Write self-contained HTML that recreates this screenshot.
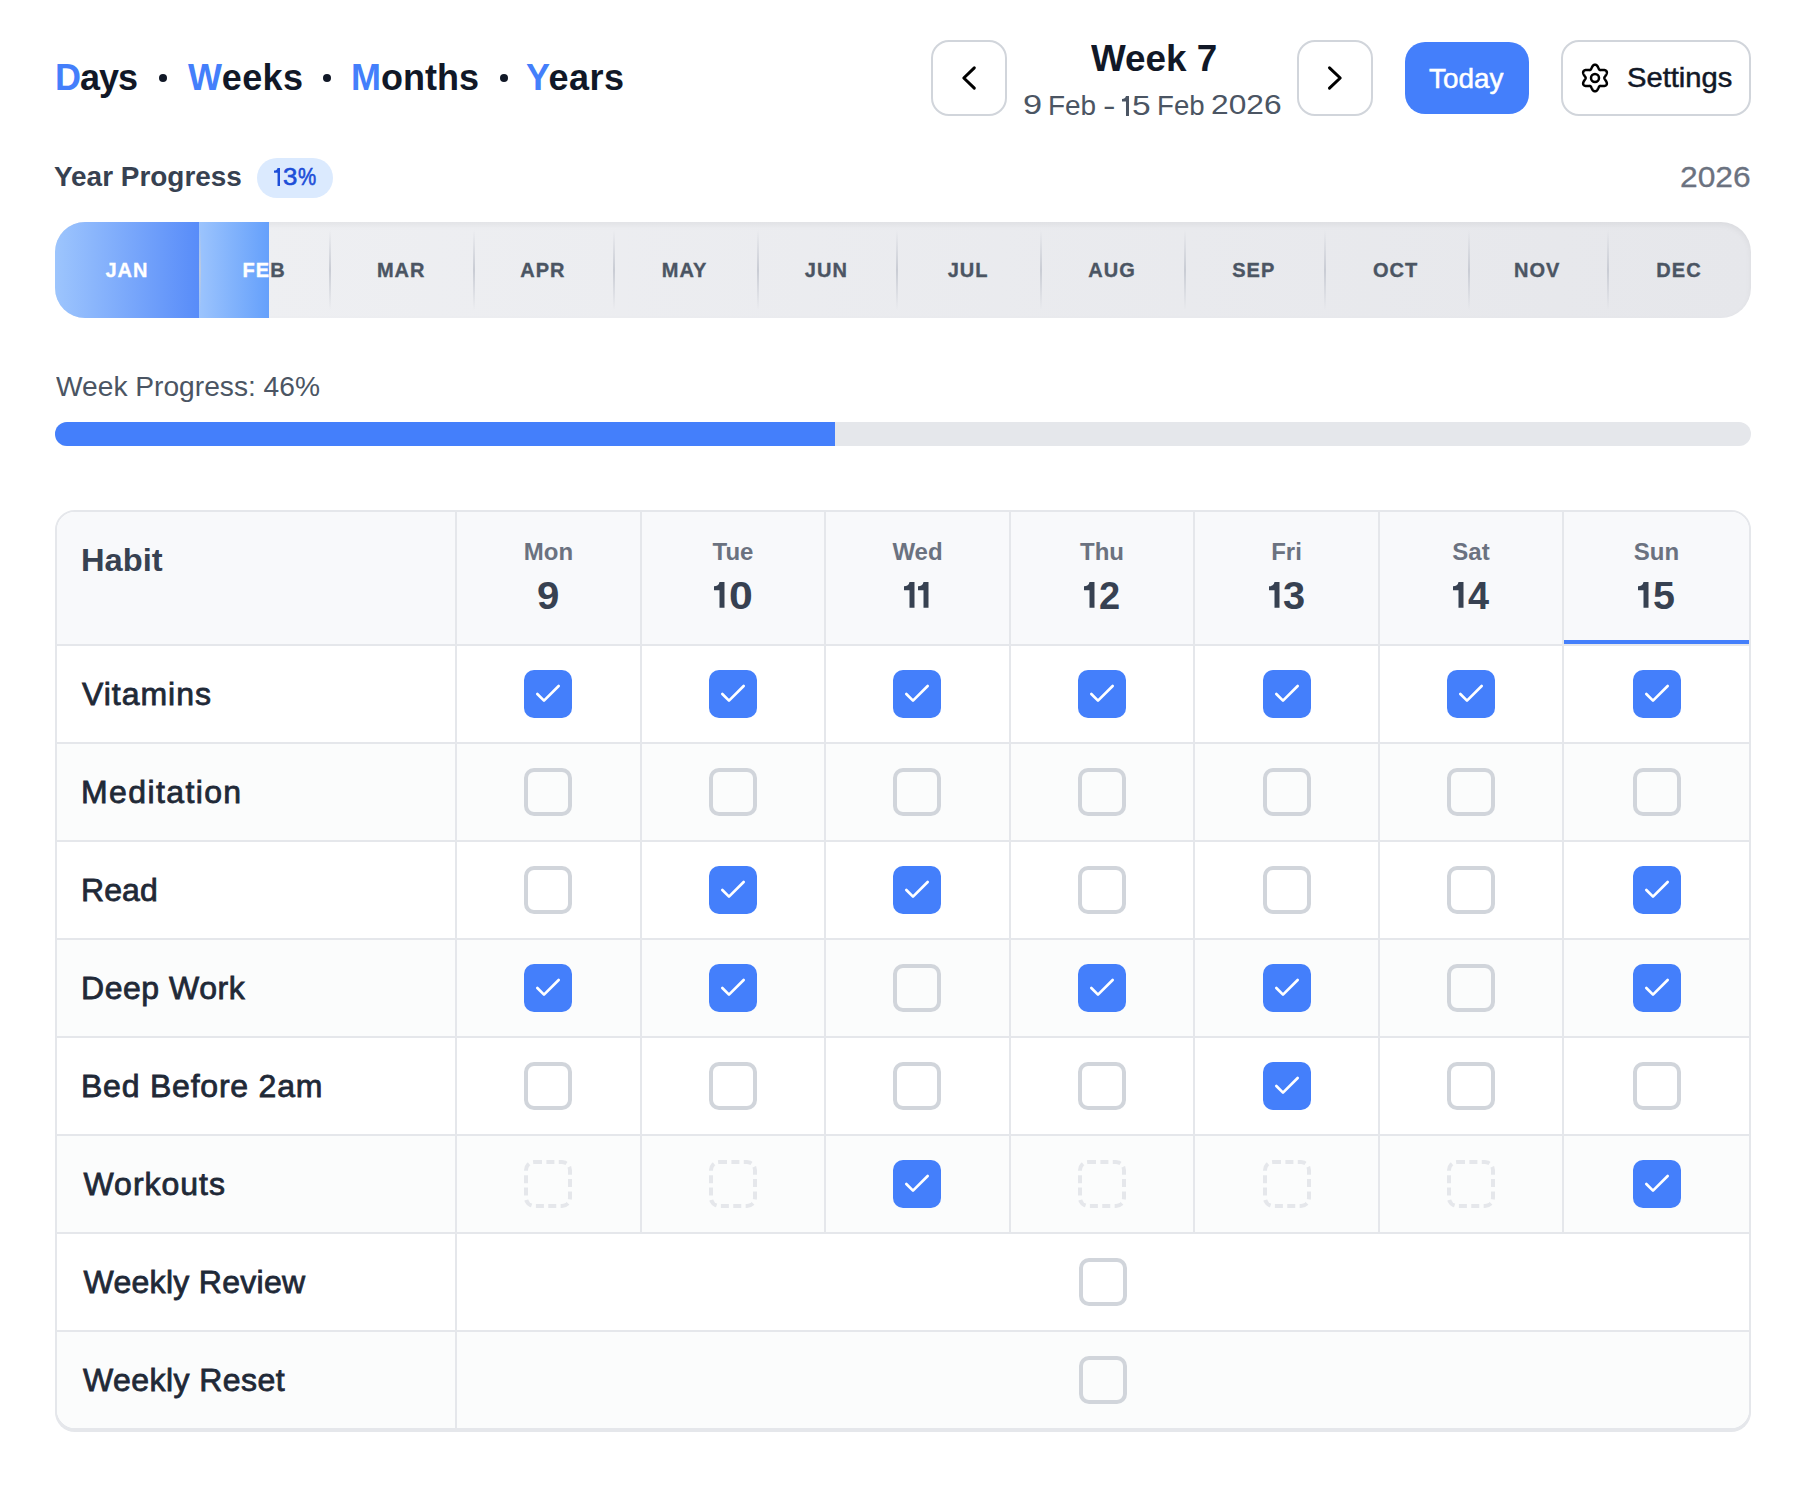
<!DOCTYPE html>
<html><head><meta charset="utf-8">
<style>
*{box-sizing:border-box;margin:0;padding:0}
html,body{width:1812px;height:1488px;background:#fff;overflow:hidden}
body{font-family:"Liberation Sans",sans-serif;position:relative;color:#111827}
.abs{position:absolute}
.t{position:absolute;white-space:nowrap}
.nav{position:absolute;top:52px;font-size:36px;font-weight:700;line-height:52px;color:#111827;white-space:nowrap}
.nav b{color:#447ffb;font-weight:700}
.dot{position:absolute;top:74px;width:8px;height:8px;border-radius:50%;background:#111827}
.btn{position:absolute;border:2px solid #d1d5db;border-radius:18px;background:#fff}
.btn svg{position:absolute}
.today{position:absolute;left:1405px;top:42px;width:124px;height:72px;border-radius:20px;background:#447ffb;color:#fff;font-size:28px;line-height:72px;text-align:center;-webkit-text-stroke:0.5px #fff;letter-spacing:0px}
#bar{position:absolute;left:55px;top:222px;width:1696px;height:96px;border-radius:30px;overflow:hidden;background:linear-gradient(to right,#eff0f3,#e6e7eb)}
#bar .shade{position:absolute;left:0;top:0;width:1696px;height:96px;border-radius:30px;box-shadow:inset 0 3px 6px rgba(0,0,0,0.05)}
.mlab{position:absolute;top:0;height:96px;line-height:96px;text-align:center;font-size:20px;font-weight:700;letter-spacing:1px;color:#4b5563;-webkit-text-stroke:0.35px #4b5563}
.sep{position:absolute;top:8px;width:2px;height:80px;background:linear-gradient(to bottom,rgba(200,203,211,0),#c9ccd4 50%,rgba(200,203,211,0))}
.fill{position:absolute;top:0;height:96px;overflow:hidden}
.fill .mlab{color:#fff;-webkit-text-stroke:0.35px #fff}
#tbl{position:absolute;left:55px;top:510px;width:1696px;height:920px;border:2px solid #e5e7eb;border-radius:20px;box-shadow:0 2px 0 #e5e7eb;overflow:hidden;background:#fff}
.hl{position:absolute;left:0;width:1692px;height:2px;background:#e5e7eb}
.vl{position:absolute;top:0;width:2px;background:#e5e7eb}
.rowbg{position:absolute;left:0;width:1692px;height:96px;background:#fbfcfc}
.cb{position:absolute;width:48px;height:48px;border-radius:10px}
.cb.on{background:#447ffb}
.cb.off{border:4px solid #d1d5db}
.cb.na{border:4px dashed #e5e7eb}
.cb svg{position:absolute;left:8px;top:8px}
.hname{position:absolute;left:25px;font-size:32px;color:#1f2937;line-height:96px;white-space:nowrap;-webkit-text-stroke:0.8px #1f2937}
.dname{position:absolute;top:24px;line-height:32px;width:184px;text-align:center;font-size:24px;font-weight:700;color:#6b7280;white-space:nowrap}
.dg{position:absolute;top:54px;line-height:60px;font-size:38px;font-weight:700;color:#374151;white-space:nowrap;transform-origin:0 0}
.one{position:absolute;fill:#374151}
</style></head>
<body>
<div class="nav" style="left:55px;letter-spacing:-1.0px"><b>D</b>ays</div>
<div class="dot" style="left:159px"></div>
<div class="nav" style="left:188px;letter-spacing:0.4px"><b>W</b>eeks</div>
<div class="dot" style="left:323px"></div>
<div class="nav" style="left:351px;letter-spacing:0px"><b>M</b>onths</div>
<div class="dot" style="left:500px"></div>
<div class="nav" style="left:526px;letter-spacing:0.5px"><b>Y</b>ears</div>
<div class="btn" style="left:931px;top:40px;width:76px;height:76px"><svg width="72" height="72" viewBox="0 0 72 72" style="left:0;top:0" fill="none" stroke="#000" stroke-width="3" stroke-linecap="round" stroke-linejoin="round"><path d="M41.3 25.8 L30.8 36.0 L41.3 46.2"/></svg></div>
<div class="t" style="left:1090.8px;top:34.4px;line-height:50px;transform:scaleX(1.0238);transform-origin:0 0;font-size:36px;font-weight:700;color:#111827">Week 7</div>
<div class="t" style="left:1022.55px;top:80.2px;line-height:50px;transform:scaleX(1.225);transform-origin:0 0;font-size:28px;color:#4b5563">9</div>
<div class="t" style="left:1048.1px;top:81.2px;line-height:50px;transform:scaleX(0.9978);transform-origin:0 0;font-size:28px;color:#4b5563">Feb</div>
<div class="t" style="left:1102.56px;top:81.0px;line-height:50px;transform:scaleX(1.3429);transform-origin:0 0;font-size:28px;color:#4b5563">-</div>
<div class="t" style="left:1131.6px;top:80.8px;line-height:50px;transform:scaleX(1.2);transform-origin:0 0;font-size:28px;color:#4b5563">5</div>
<div class="t" style="left:1156.93px;top:81.3px;line-height:50px;transform:scaleX(0.9867);transform-origin:0 0;font-size:28px;color:#4b5563">Feb</div>
<div class="t" style="left:1210.74px;top:80.3px;line-height:50px;transform:scaleX(1.1322);transform-origin:0 0;font-size:28px;color:#4b5563">2026</div>
<svg class="t" width="7.2" height="20.3" viewBox="0 0 7.2 20.3" style="left:1122.2px;top:95.8px;fill:#4b5563"><path d="M4 0H7.2V20.3H4V5.4H0V2.9C2 2.9 3.6 2 4 0Z"/></svg>
<div class="btn" style="left:1297px;top:40px;width:76px;height:76px"><svg width="72" height="72" viewBox="0 0 72 72" style="left:0;top:0" fill="none" stroke="#000" stroke-width="3" stroke-linecap="round" stroke-linejoin="round"><path d="M30.5 25.8 L41.2 36.0 L30.5 46.2"/></svg></div>
<div class="today"></div>
<div class="t" style="left:1429.3px;top:53.5px;line-height:50px;transform:scaleX(0.9947);transform-origin:0 0;font-size:28px;color:#fff;-webkit-text-stroke:0.5px #fff">Today</div>
<div class="btn" style="left:1561px;top:40px;width:190px;height:76px"><svg width="30" height="30" viewBox="0 0 30 30" style="left:17px;top:21px" fill="none" stroke="#000" stroke-width="2.5" stroke-linejoin="round"><path d="M24.35 15.00 L24.36 15.16 L24.39 15.33 L24.43 15.49 L24.50 15.66 L24.58 15.84 L24.68 16.02 L24.79 16.20 L24.91 16.39 L25.05 16.59 L25.19 16.80 L25.34 17.01 L25.50 17.23 L25.65 17.46 L25.81 17.70 L25.96 17.94 L26.11 18.19 L26.25 18.44 L26.38 18.70 L26.50 18.96 L26.61 19.22 L26.69 19.49 L26.76 19.75 L26.82 20.02 L26.85 20.27 L26.86 20.53 L26.84 20.78 L26.81 21.02 L26.75 21.25 L26.67 21.47 L26.56 21.67 L26.43 21.87 L26.28 22.05 L26.11 22.22 L25.92 22.37 L25.72 22.50 L25.49 22.62 L25.25 22.73 L25.00 22.81 L24.73 22.88 L24.46 22.94 L24.18 22.98 L23.89 23.01 L23.60 23.02 L23.31 23.03 L23.03 23.03 L22.74 23.01 L22.46 23.00 L22.18 22.98 L21.91 22.95 L21.65 22.93 L21.40 22.91 L21.16 22.89 L20.94 22.88 L20.72 22.87 L20.52 22.88 L20.33 22.89 L20.15 22.92 L19.98 22.97 L19.82 23.02 L19.68 23.10 L19.54 23.19 L19.41 23.29 L19.29 23.42 L19.17 23.56 L19.06 23.72 L18.96 23.89 L18.85 24.08 L18.75 24.28 L18.65 24.50 L18.54 24.73 L18.43 24.96 L18.32 25.21 L18.20 25.46 L18.07 25.71 L17.94 25.96 L17.80 26.22 L17.65 26.46 L17.49 26.71 L17.32 26.94 L17.14 27.16 L16.96 27.37 L16.77 27.56 L16.56 27.74 L16.36 27.90 L16.14 28.03 L15.92 28.14 L15.69 28.23 L15.46 28.30 L15.23 28.34 L15.00 28.35 L14.77 28.34 L14.54 28.30 L14.31 28.23 L14.08 28.14 L13.86 28.03 L13.64 27.90 L13.44 27.74 L13.23 27.56 L13.04 27.37 L12.86 27.16 L12.68 26.94 L12.51 26.71 L12.35 26.46 L12.20 26.22 L12.06 25.96 L11.93 25.71 L11.80 25.46 L11.68 25.21 L11.57 24.96 L11.46 24.73 L11.35 24.50 L11.25 24.28 L11.15 24.08 L11.04 23.89 L10.94 23.72 L10.83 23.56 L10.71 23.42 L10.59 23.29 L10.46 23.19 L10.33 23.10 L10.18 23.02 L10.02 22.97 L9.85 22.92 L9.67 22.89 L9.48 22.88 L9.28 22.87 L9.06 22.88 L8.84 22.89 L8.60 22.91 L8.35 22.93 L8.09 22.95 L7.82 22.98 L7.54 23.00 L7.26 23.01 L6.97 23.03 L6.69 23.03 L6.40 23.02 L6.11 23.01 L5.82 22.98 L5.54 22.94 L5.27 22.88 L5.00 22.81 L4.75 22.73 L4.51 22.62 L4.28 22.50 L4.08 22.37 L3.89 22.22 L3.72 22.05 L3.57 21.87 L3.44 21.67 L3.33 21.47 L3.25 21.25 L3.19 21.02 L3.16 20.78 L3.14 20.53 L3.15 20.27 L3.18 20.02 L3.24 19.75 L3.31 19.49 L3.39 19.22 L3.50 18.96 L3.62 18.70 L3.75 18.44 L3.89 18.19 L4.04 17.94 L4.19 17.70 L4.35 17.46 L4.50 17.23 L4.66 17.01 L4.81 16.80 L4.95 16.59 L5.09 16.39 L5.21 16.20 L5.32 16.02 L5.42 15.84 L5.50 15.66 L5.57 15.49 L5.61 15.33 L5.64 15.16 L5.65 15.00 L5.64 14.84 L5.61 14.67 L5.57 14.51 L5.50 14.34 L5.42 14.16 L5.32 13.98 L5.21 13.80 L5.09 13.61 L4.95 13.41 L4.81 13.20 L4.66 12.99 L4.50 12.77 L4.35 12.54 L4.19 12.30 L4.04 12.06 L3.89 11.81 L3.75 11.56 L3.62 11.30 L3.50 11.04 L3.39 10.78 L3.31 10.51 L3.24 10.25 L3.18 9.98 L3.15 9.73 L3.14 9.47 L3.16 9.22 L3.19 8.98 L3.25 8.75 L3.33 8.53 L3.44 8.32 L3.57 8.13 L3.72 7.95 L3.89 7.78 L4.08 7.63 L4.28 7.50 L4.51 7.38 L4.75 7.27 L5.00 7.19 L5.27 7.12 L5.54 7.06 L5.82 7.02 L6.11 6.99 L6.40 6.98 L6.69 6.97 L6.97 6.97 L7.26 6.99 L7.54 7.00 L7.82 7.02 L8.09 7.05 L8.35 7.07 L8.60 7.09 L8.84 7.11 L9.06 7.12 L9.28 7.13 L9.48 7.12 L9.67 7.11 L9.85 7.08 L10.02 7.03 L10.18 6.98 L10.32 6.90 L10.46 6.81 L10.59 6.71 L10.71 6.58 L10.83 6.44 L10.94 6.28 L11.04 6.11 L11.15 5.92 L11.25 5.72 L11.35 5.50 L11.46 5.27 L11.57 5.04 L11.68 4.79 L11.80 4.54 L11.93 4.29 L12.06 4.04 L12.20 3.78 L12.35 3.54 L12.51 3.29 L12.68 3.06 L12.86 2.84 L13.04 2.63 L13.23 2.44 L13.44 2.26 L13.64 2.10 L13.86 1.97 L14.08 1.86 L14.31 1.77 L14.54 1.70 L14.77 1.66 L15.00 1.65 L15.23 1.66 L15.46 1.70 L15.69 1.77 L15.92 1.86 L16.14 1.97 L16.36 2.10 L16.56 2.26 L16.77 2.44 L16.96 2.63 L17.14 2.84 L17.32 3.06 L17.49 3.29 L17.65 3.54 L17.80 3.78 L17.94 4.04 L18.07 4.29 L18.20 4.54 L18.32 4.79 L18.43 5.04 L18.54 5.27 L18.65 5.50 L18.75 5.72 L18.85 5.92 L18.96 6.11 L19.06 6.28 L19.17 6.44 L19.29 6.58 L19.41 6.71 L19.54 6.81 L19.68 6.90 L19.82 6.98 L19.98 7.03 L20.15 7.08 L20.33 7.11 L20.52 7.12 L20.72 7.13 L20.94 7.12 L21.16 7.11 L21.40 7.09 L21.65 7.07 L21.91 7.05 L22.18 7.02 L22.46 7.00 L22.74 6.99 L23.03 6.97 L23.31 6.97 L23.60 6.98 L23.89 6.99 L24.18 7.02 L24.46 7.06 L24.73 7.12 L25.00 7.19 L25.25 7.27 L25.49 7.38 L25.72 7.50 L25.92 7.63 L26.11 7.78 L26.28 7.95 L26.43 8.13 L26.56 8.32 L26.67 8.53 L26.75 8.75 L26.81 8.98 L26.84 9.22 L26.86 9.47 L26.85 9.73 L26.82 9.98 L26.76 10.25 L26.69 10.51 L26.61 10.78 L26.50 11.04 L26.38 11.30 L26.25 11.56 L26.11 11.81 L25.96 12.06 L25.81 12.30 L25.65 12.54 L25.50 12.77 L25.34 12.99 L25.19 13.20 L25.05 13.41 L24.91 13.61 L24.79 13.80 L24.68 13.98 L24.58 14.16 L24.50 14.34 L24.43 14.51 L24.39 14.67 L24.36 14.84 L24.35 15.00Z"/><circle cx="15" cy="15" r="4"/></svg></div>
<div class="t" style="left:1626.86px;top:53.2px;line-height:50px;transform:scaleX(1.041);transform-origin:0 0;font-size:28px;color:#111827;-webkit-text-stroke:0.5px #111827">Settings</div>
<div class="t" style="left:53.9px;top:152.4px;line-height:50px;transform:scaleX(0.9973);transform-origin:0 0;font-size:28px;font-weight:700;color:#374151">Year Progress</div>
<div class="t" style="left:257px;top:158px;width:76px;height:40px;border-radius:20px;background:#dbeafe"></div>
<div class="t" style="left:282.82px;top:152.4px;line-height:50px;transform:scaleX(1.075);transform-origin:0 0;font-size:24px;color:#1d4ed8;-webkit-text-stroke:0.6px #1d4ed8">3</div>
<div class="t" style="left:298.4px;top:152.4px;line-height:50px;transform:scaleX(0.8524);transform-origin:0 0;font-size:24px;color:#1d4ed8;-webkit-text-stroke:0.6px #1d4ed8">%</div>
<svg class="t" width="6.4" height="17.4" viewBox="0 0 7.2 19.6" preserveAspectRatio="none" style="left:273.8px;top:168.4px;fill:#1d4ed8"><path d="M4 0H7.2V20.3H4V5.4H0V2.9C2 2.9 3.6 2 4 0Z"/></svg>
<div class="t" style="left:1680.14px;top:152.1px;line-height:50px;transform:scaleX(1.0585);transform-origin:0 0;font-size:30px;color:#6b7280;-webkit-text-stroke:0.3px #6b7280">2026</div>
<div id="bar"><div class="shade"></div><div class="mlab" style="left:0.00px;width:144.04px">JAN</div><div class="sep" style="left:144.04px"></div><div class="mlab" style="left:144.04px;width:130.10px">FEB</div><div class="sep" style="left:274.15px"></div><div class="mlab" style="left:274.15px;width:144.04px">MAR</div><div class="sep" style="left:418.19px"></div><div class="mlab" style="left:418.19px;width:139.40px">APR</div><div class="sep" style="left:557.59px"></div><div class="mlab" style="left:557.59px;width:144.04px">MAY</div><div class="sep" style="left:701.63px"></div><div class="mlab" style="left:701.63px;width:139.40px">JUN</div><div class="sep" style="left:841.03px"></div><div class="mlab" style="left:841.03px;width:144.04px">JUL</div><div class="sep" style="left:985.07px"></div><div class="mlab" style="left:985.07px;width:144.04px">AUG</div><div class="sep" style="left:1129.12px"></div><div class="mlab" style="left:1129.12px;width:139.40px">SEP</div><div class="sep" style="left:1268.52px"></div><div class="mlab" style="left:1268.52px;width:144.04px">OCT</div><div class="sep" style="left:1412.56px"></div><div class="mlab" style="left:1412.56px;width:139.40px">NOV</div><div class="sep" style="left:1551.96px"></div><div class="mlab" style="left:1551.96px;width:144.04px">DEC</div><div class="fill" style="left:0.00px;width:144.04px;background:linear-gradient(to right,#9dc5fd,#588cf9)"><div class="mlab" style="left:0;width:144.04px">JAN</div></div><div class="fill" style="left:144.04px;width:69.70px;background:linear-gradient(to right,#9cc4fd,#65a0fb)"><div class="mlab" style="left:0;width:130.10px">FEB</div></div><div class="sep" style="left:144.04px;width:1.5px;opacity:0.7"></div></div>
<div class="t" style="left:56.3px;top:361.8px;line-height:50px;transform:scaleX(1.0057);transform-origin:0 0;font-size:28px;color:#4b5563">Week Progress: 46%</div>
<div class="abs" style="left:55px;top:422px;width:1696px;height:24px;border-radius:12px;background:#e5e7eb;overflow:hidden"><div class="abs" style="left:0;top:0;width:780px;height:24px;background:#447ffb"></div></div>
<div id="tbl"><div class="abs" style="left:0;top:0;width:1692px;height:132px;background:#f8f9fb"></div><div class="rowbg" style="top:232px"></div><div class="rowbg" style="top:428px"></div><div class="rowbg" style="top:624px"></div><div class="rowbg" style="top:820px"></div><div class="hl" style="top:132px"></div><div class="hl" style="top:230px"></div><div class="hl" style="top:328px"></div><div class="hl" style="top:426px"></div><div class="hl" style="top:524px"></div><div class="hl" style="top:622px"></div><div class="hl" style="top:720px"></div><div class="hl" style="top:818px"></div><div class="vl" style="left:398px;height:916px"></div><div class="vl" style="left:583px;height:720px"></div><div class="vl" style="left:767px;height:720px"></div><div class="vl" style="left:952px;height:720px"></div><div class="vl" style="left:1136px;height:720px"></div><div class="vl" style="left:1321px;height:720px"></div><div class="vl" style="left:1505px;height:720px"></div><div class="abs" style="left:1507px;top:128px;width:185px;height:4px;background:#447ffb"></div><div class="t" style="left:23.560000000000002px;top:22.799999999999955px;line-height:50px;transform:scaleX(1.0205);transform-origin:0 0;font-size:32px;font-weight:700;color:#374151">Habit</div><div class="dname" style="left:399.50px">Mon</div><div class="dname" style="left:584.00px">Tue</div><div class="dname" style="left:768.50px">Wed</div><div class="dname" style="left:953.00px">Thu</div><div class="dname" style="left:1137.50px">Fri</div><div class="dname" style="left:1322.00px">Sat</div><div class="dname" style="left:1507.50px">Sun</div><div class="dg" style="left:480.24px;transform:scaleX(1.058)">9</div><svg class="one" width="11" height="26" viewBox="0 0 11 26" style="left:657.10px;top:70px"><path d="M5.5 0H10.5V25.8H5.5V8.2H0V4.3C3 4.3 5 3 5.5 0Z"/></svg><div class="dg" style="left:671.57px;transform:scaleX(1.126)">0</div><svg class="one" width="11" height="26" viewBox="0 0 11 26" style="left:847.10px;top:70px"><path d="M5.5 0H10.5V25.8H5.5V8.2H0V4.3C3 4.3 5 3 5.5 0Z"/></svg><svg class="one" width="11" height="26" viewBox="0 0 11 26" style="left:861.20px;top:70px"><path d="M5.5 0H10.5V25.8H5.5V8.2H0V4.3C3 4.3 5 3 5.5 0Z"/></svg><svg class="one" width="11" height="26" viewBox="0 0 11 26" style="left:1027.10px;top:70px"><path d="M5.5 0H10.5V25.8H5.5V8.2H0V4.3C3 4.3 5 3 5.5 0Z"/></svg><div class="dg" style="left:1042.00px;transform:scaleX(1.000)">2</div><svg class="one" width="11" height="26" viewBox="0 0 11 26" style="left:1211.80px;top:70px"><path d="M5.5 0H10.5V25.8H5.5V8.2H0V4.3C3 4.3 5 3 5.5 0Z"/></svg><div class="dg" style="left:1226.05px;transform:scaleX(1.047)">3</div><svg class="one" width="11" height="26" viewBox="0 0 11 26" style="left:1396.30px;top:70px"><path d="M5.5 0H10.5V25.8H5.5V8.2H0V4.3C3 4.3 5 3 5.5 0Z"/></svg><div class="dg" style="left:1410.80px;transform:scaleX(0.995)">4</div><svg class="one" width="11" height="26" viewBox="0 0 11 26" style="left:1581.30px;top:70px"><path d="M5.5 0H10.5V25.8H5.5V8.2H0V4.3C3 4.3 5 3 5.5 0Z"/></svg><div class="dg" style="left:1596.26px;transform:scaleX(1.037)">5</div><div class="hname" style="left:25px;top:134px;letter-spacing:0.97px">Vitamins</div><div class="cb on" style="left:467.00px;top:158px"><svg width="32" height="32" viewBox="0 0 24 24" fill="none" stroke="#fff" stroke-width="2" stroke-linecap="round" stroke-linejoin="round"><path d="M20 6 9 17l-5-5"/></svg></div><div class="cb on" style="left:652.00px;top:158px"><svg width="32" height="32" viewBox="0 0 24 24" fill="none" stroke="#fff" stroke-width="2" stroke-linecap="round" stroke-linejoin="round"><path d="M20 6 9 17l-5-5"/></svg></div><div class="cb on" style="left:836.00px;top:158px"><svg width="32" height="32" viewBox="0 0 24 24" fill="none" stroke="#fff" stroke-width="2" stroke-linecap="round" stroke-linejoin="round"><path d="M20 6 9 17l-5-5"/></svg></div><div class="cb on" style="left:1021.00px;top:158px"><svg width="32" height="32" viewBox="0 0 24 24" fill="none" stroke="#fff" stroke-width="2" stroke-linecap="round" stroke-linejoin="round"><path d="M20 6 9 17l-5-5"/></svg></div><div class="cb on" style="left:1206.00px;top:158px"><svg width="32" height="32" viewBox="0 0 24 24" fill="none" stroke="#fff" stroke-width="2" stroke-linecap="round" stroke-linejoin="round"><path d="M20 6 9 17l-5-5"/></svg></div><div class="cb on" style="left:1390.00px;top:158px"><svg width="32" height="32" viewBox="0 0 24 24" fill="none" stroke="#fff" stroke-width="2" stroke-linecap="round" stroke-linejoin="round"><path d="M20 6 9 17l-5-5"/></svg></div><div class="cb on" style="left:1576.00px;top:158px"><svg width="32" height="32" viewBox="0 0 24 24" fill="none" stroke="#fff" stroke-width="2" stroke-linecap="round" stroke-linejoin="round"><path d="M20 6 9 17l-5-5"/></svg></div><div class="hname" style="left:24px;top:232px;letter-spacing:1.39px">Meditation</div><div class="cb off" style="left:467.00px;top:256px"></div><div class="cb off" style="left:652.00px;top:256px"></div><div class="cb off" style="left:836.00px;top:256px"></div><div class="cb off" style="left:1021.00px;top:256px"></div><div class="cb off" style="left:1206.00px;top:256px"></div><div class="cb off" style="left:1390.00px;top:256px"></div><div class="cb off" style="left:1576.00px;top:256px"></div><div class="hname" style="left:24px;top:330px;letter-spacing:0.1px">Read</div><div class="cb off" style="left:467.00px;top:354px"></div><div class="cb on" style="left:652.00px;top:354px"><svg width="32" height="32" viewBox="0 0 24 24" fill="none" stroke="#fff" stroke-width="2" stroke-linecap="round" stroke-linejoin="round"><path d="M20 6 9 17l-5-5"/></svg></div><div class="cb on" style="left:836.00px;top:354px"><svg width="32" height="32" viewBox="0 0 24 24" fill="none" stroke="#fff" stroke-width="2" stroke-linecap="round" stroke-linejoin="round"><path d="M20 6 9 17l-5-5"/></svg></div><div class="cb off" style="left:1021.00px;top:354px"></div><div class="cb off" style="left:1206.00px;top:354px"></div><div class="cb off" style="left:1390.00px;top:354px"></div><div class="cb on" style="left:1576.00px;top:354px"><svg width="32" height="32" viewBox="0 0 24 24" fill="none" stroke="#fff" stroke-width="2" stroke-linecap="round" stroke-linejoin="round"><path d="M20 6 9 17l-5-5"/></svg></div><div class="hname" style="left:24px;top:428px;letter-spacing:0.52px">Deep Work</div><div class="cb on" style="left:467.00px;top:452px"><svg width="32" height="32" viewBox="0 0 24 24" fill="none" stroke="#fff" stroke-width="2" stroke-linecap="round" stroke-linejoin="round"><path d="M20 6 9 17l-5-5"/></svg></div><div class="cb on" style="left:652.00px;top:452px"><svg width="32" height="32" viewBox="0 0 24 24" fill="none" stroke="#fff" stroke-width="2" stroke-linecap="round" stroke-linejoin="round"><path d="M20 6 9 17l-5-5"/></svg></div><div class="cb off" style="left:836.00px;top:452px"></div><div class="cb on" style="left:1021.00px;top:452px"><svg width="32" height="32" viewBox="0 0 24 24" fill="none" stroke="#fff" stroke-width="2" stroke-linecap="round" stroke-linejoin="round"><path d="M20 6 9 17l-5-5"/></svg></div><div class="cb on" style="left:1206.00px;top:452px"><svg width="32" height="32" viewBox="0 0 24 24" fill="none" stroke="#fff" stroke-width="2" stroke-linecap="round" stroke-linejoin="round"><path d="M20 6 9 17l-5-5"/></svg></div><div class="cb off" style="left:1390.00px;top:452px"></div><div class="cb on" style="left:1576.00px;top:452px"><svg width="32" height="32" viewBox="0 0 24 24" fill="none" stroke="#fff" stroke-width="2" stroke-linecap="round" stroke-linejoin="round"><path d="M20 6 9 17l-5-5"/></svg></div><div class="hname" style="left:24px;top:526px;letter-spacing:0.78px">Bed Before 2am</div><div class="cb off" style="left:467.00px;top:550px"></div><div class="cb off" style="left:652.00px;top:550px"></div><div class="cb off" style="left:836.00px;top:550px"></div><div class="cb off" style="left:1021.00px;top:550px"></div><div class="cb on" style="left:1206.00px;top:550px"><svg width="32" height="32" viewBox="0 0 24 24" fill="none" stroke="#fff" stroke-width="2" stroke-linecap="round" stroke-linejoin="round"><path d="M20 6 9 17l-5-5"/></svg></div><div class="cb off" style="left:1390.00px;top:550px"></div><div class="cb off" style="left:1576.00px;top:550px"></div><div class="hname" style="left:26.5px;top:624px;letter-spacing:0.98px">Workouts</div><div class="cb na" style="left:467.00px;top:648px"></div><div class="cb na" style="left:652.00px;top:648px"></div><div class="cb on" style="left:836.00px;top:648px"><svg width="32" height="32" viewBox="0 0 24 24" fill="none" stroke="#fff" stroke-width="2" stroke-linecap="round" stroke-linejoin="round"><path d="M20 6 9 17l-5-5"/></svg></div><div class="cb na" style="left:1021.00px;top:648px"></div><div class="cb na" style="left:1206.00px;top:648px"></div><div class="cb na" style="left:1390.00px;top:648px"></div><div class="cb on" style="left:1576.00px;top:648px"><svg width="32" height="32" viewBox="0 0 24 24" fill="none" stroke="#fff" stroke-width="2" stroke-linecap="round" stroke-linejoin="round"><path d="M20 6 9 17l-5-5"/></svg></div><div class="hname" style="left:26.5px;top:722px;letter-spacing:0.29px">Weekly Review</div><div class="cb off" style="left:1022px;top:746px"></div><div class="hname" style="left:26px;top:820px;letter-spacing:0.43px">Weekly Reset</div><div class="cb off" style="left:1022px;top:844px"></div></div>
</body></html>
